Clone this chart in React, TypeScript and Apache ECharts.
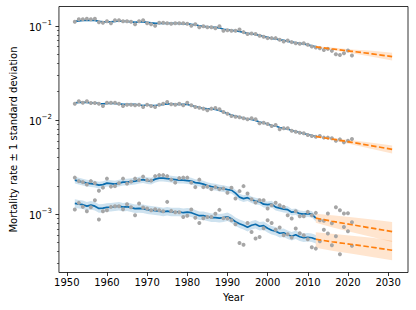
import React, { useEffect, useRef } from "react";
import * as echarts from "echarts";

// ---- data (mortality rates) ----
const obsStart = 1952;
const obsEnd = 2021;
const fitEnd = 2012;
const forecastYears = [2012, 2016, 2021, 2026, 2031];
const xTickLabels = [1950, 1960, 1970, 1980, 1990, 2000, 2010, 2020, 2030];
const yTickExponents = [-3, -2, -1];

const obsA = [0.1103,0.1172,0.1172,0.1187,0.1172,0.1187,0.1090,0.1076,0.1116,0.1063,
 0.1144,0.1144,0.1116,0.1116,0.1103,0.1037,0.1116,0.1144,0.1063,0.1037,
 0.1000,0.1076,0.1076,0.1063,0.1050,0.1063,0.1063,0.1063,0.1050,0.1000,
 0.1037,0.0964,0.0988,0.0964,0.0964,0.0941,0.0988,0.0885,0.0896,0.0885,
 0.0885,0.0913,0.0857,0.0818,0.0830,0.0818,0.0783,0.0764,0.0740,0.0740,
 0.0740,0.0710,0.0681,0.0698,0.0671,0.0654,0.0646,0.0654,0.0628,0.0603,
 0.0588,0.0579,0.0555,0.0569,0.0542,0.0500,0.0491,0.0512,0.0546,0.0483];
const fitA = [0.1116,0.1130,0.1144,0.1144,0.1144,0.1144,0.1116,0.1103,0.1103,0.1103,
 0.1116,0.1130,0.1116,0.1116,0.1103,0.1090,0.1103,0.1103,0.1090,0.1076,
 0.1063,0.1063,0.1063,0.1063,0.1063,0.1063,0.1063,0.1050,0.1050,0.1037,
 0.1025,0.1000,0.0988,0.0976,0.0964,0.0964,0.0952,0.0918,0.0907,0.0896,
 0.0885,0.0874,0.0853,0.0832,0.0822,0.0812,0.0792,0.0773,0.0755,0.0736,
 0.0727,0.0710,0.0701,0.0684,0.0676,0.0659,0.0651,0.0643,0.0628,0.0613,
 0.0598];
const fcA = [0.0598,0.0569,0.0536,0.0504,0.0471];
const fcLoA = [0.0591,0.0552,0.0510,0.0468,0.0429];
const fcHiA = [0.0606,0.0587,0.0562,0.0542,0.0518];

const obsB = [0.01491,0.01581,0.01528,0.01581,0.01517,0.01517,0.01491,0.01409,0.01528,0.01528,
 0.01528,0.01491,0.01409,0.01455,0.01455,0.01434,0.01455,0.01375,0.01455,0.01409,
 0.01375,0.01455,0.01491,0.01554,0.01469,0.01455,0.01491,0.01434,0.01528,0.01434,
 0.01375,0.01352,0.01320,0.01269,0.01320,0.01342,0.01300,0.01217,0.01167,0.01103,
 0.01084,0.01068,0.01042,0.01017,0.01042,0.01017,0.00922,0.00936,0.00907,0.00863,
 0.00885,0.00796,0.00816,0.00816,0.00769,0.00751,0.00733,0.00722,0.00693,0.00676,
 0.00664,0.00676,0.00650,0.00650,0.00639,0.00602,0.00623,0.00579,0.00602,0.00628];
const fitB = [0.01517,0.01535,0.01535,0.01535,0.01517,0.01517,0.01498,0.01480,0.01498,0.01498,
 0.01498,0.01480,0.01462,0.01462,0.01462,0.01462,0.01444,0.01426,0.01444,0.01426,
 0.01426,0.01444,0.01462,0.01480,0.01480,0.01462,0.01462,0.01462,0.01462,0.01426,
 0.01392,0.01358,0.01326,0.01310,0.01310,0.01294,0.01262,0.01217,0.01173,0.01131,
 0.01103,0.01076,0.01050,0.01025,0.01012,0.00988,0.00952,0.00929,0.00907,0.00874,
 0.00863,0.00832,0.00812,0.00802,0.00773,0.00755,0.00736,0.00718,0.00701,0.00684,
 0.00668];
const fcB = [0.00668,0.00628,0.00579,0.00532,0.00488];
const fcLoB = [0.00659,0.00608,0.00549,0.00491,0.00442];
const fcHiB = [0.00676,0.00648,0.00611,0.00575,0.00537];

const obsC = [0.002445,0.002244,0.002190,0.002070,0.002244,0.002137,0.001778,0.001914,0.002386,0.001962,
 0.001986,0.002137,0.002386,0.002111,0.002217,0.002386,0.002300,0.002506,0.002300,0.002272,
 0.002537,0.002600,0.002600,0.002537,0.002328,0.002163,0.002415,0.002445,0.002445,0.002163,
 0.001938,0.002328,0.001938,0.001962,0.001845,0.001938,0.001845,0.001877,0.001685,0.001905,
 0.001469,0.001757,0.001986,0.001661,0.001444,0.001332,0.001409,0.001409,0.001151,0.001247,
 0.001320,0.001247,0.001196,0.000976,0.000900,0.001076,0.000952,0.000952,0.001058,0.000976,
 0.001033,0.000863,0.000852,0.001017,0.000802,0.001187,0.001103,0.001017,0.001025,0.000822];
const fitC = [0.002300,0.002244,0.002190,0.002137,0.002111,0.002085,0.002035,0.002060,0.002137,0.002111,
 0.002085,0.002137,0.002190,0.002190,0.002217,0.002244,0.002300,0.002328,0.002272,0.002244,
 0.002357,0.002415,0.002415,0.002386,0.002357,0.002328,0.002300,0.002300,0.002272,0.002244,
 0.002163,0.002137,0.002085,0.002010,0.001962,0.001938,0.001891,0.001868,0.001822,0.001800,
 0.001673,0.001517,0.001462,0.001498,0.001426,0.001375,0.001358,0.001278,0.001262,0.001278,
 0.001187,0.001159,0.001131,0.001117,0.001050,0.001063,0.001012,0.001000,0.001012,0.001000,
 0.000907];
const fcC = [0.000907,0.000842,0.000773,0.000710,0.000653];
const fcLoC = [0.000812,0.000727,0.000643,0.000572,0.000508];
const fcHiC = [0.001012,0.000976,0.000929,0.000881,0.000826];

const obsD = [0.001122,0.001319,0.001196,0.001076,0.001187,0.001409,0.000878,0.001076,0.001103,0.001196,
 0.001217,0.001217,0.001131,0.001278,0.001187,0.000976,0.001300,0.001179,0.001151,0.001103,
 0.001131,0.001103,0.001076,0.001352,0.001084,0.001050,0.001050,0.000936,0.000964,0.001122,
 0.000918,0.000808,0.000907,0.000936,0.000936,0.001012,0.001111,0.000907,0.000900,0.000863,
 0.000783,0.000495,0.000473,0.000808,0.000648,0.000551,0.000573,0.000710,0.000863,0.000808,
 0.000684,0.000722,0.000598,0.000613,0.000565,0.000705,0.000628,0.000598,0.000542,0.000446,
 0.000431,0.000516,0.000684,0.000623,0.000468,0.000583,0.000375,0.000733,0.000659,0.000462];
const fitD = [0.001300,0.001278,0.001262,0.001217,0.001247,0.001217,0.001151,0.001159,0.001179,0.001187,
 0.001202,0.001217,0.001187,0.001202,0.001173,0.001145,0.001151,0.001145,0.001117,0.001103,
 0.001090,0.001076,0.001058,0.001076,0.001058,0.001058,0.001058,0.001037,0.001050,0.001037,
 0.001000,0.000964,0.000964,0.000940,0.000918,0.000918,0.000907,0.000918,0.000940,0.000896,
 0.000832,0.000792,0.000764,0.000727,0.000764,0.000783,0.000745,0.000755,0.000710,0.000676,
 0.000659,0.000628,0.000635,0.000605,0.000583,0.000605,0.000576,0.000562,0.000569,0.000562,
 0.000542];
const fcD = [0.000542,0.000510,0.000477,0.000446,0.000414];
const fcLoD = [0.000440,0.000409,0.000380,0.000351,0.000324];
const fcHiD = [0.000643,0.000620,0.000590,0.000562,0.000522];

const fitSdLog = [0.006, 0.006, 0.035, 0.045];

const BLUE = "#0b6cad";
const ORANGE = "#ff7f0e";
const GRAY = "#a6a6a6";
const FONT = "DejaVu Sans";
const FS = 10;

const lg = (v: number) => Math.log10(v);

function bandSeries(xs: number[], lo: number[], hi: number[], color: string, opacity: number) {
  return {
    type: "custom",
    silent: true,
    z: 1,
    data: xs.map((x, i) => [x, lg(lo[i]), lg(hi[i])]),
    encode: { x: 0, y: [1, 2] },
    renderItem: (params: any, api: any) => {
      if (params.dataIndex !== 0) return null;
      const pts: number[][] = [];
      for (let i = 0; i < xs.length; i++) pts.push(api.coord([xs[i], lg(hi[i])]));
      for (let i = xs.length - 1; i >= 0; i--) pts.push(api.coord([xs[i], lg(lo[i])]));
      return { type: "polygon", shape: { points: pts }, style: { fill: color, opacity } };
    },
  };
}

export default function App() {
  const ref = useRef<HTMLDivElement>(null);
  useEffect(() => {
    if (!ref.current) return;
    const chart = echarts.init(ref.current, null, { renderer: "svg" });
    const obsYears: number[] = [];
    for (let y = obsStart; y <= obsEnd; y++) obsYears.push(y);
    const fitYears = obsYears.filter((y) => y <= fitEnd);

    const groups = [
      { obs: obsA, fit: fitA, fc: fcA, lo: fcLoA, hi: fcHiA },
      { obs: obsB, fit: fitB, fc: fcB, lo: fcLoB, hi: fcHiB },
      { obs: obsC, fit: fitC, fc: fcC, lo: fcLoC, hi: fcHiC },
      { obs: obsD, fit: fitD, fc: fcD, lo: fcLoD, hi: fcHiD },
    ];

    const series: any[] = [];
    groups.forEach((g, gi) => {
      const sd = fitSdLog[gi];
      const loFit = g.fit.map((v) => v / Math.pow(10, sd));
      const hiFit = g.fit.map((v) => v * Math.pow(10, sd));
      series.push(bandSeries(fitYears, loFit, hiFit, BLUE, 0.2));
      series.push(bandSeries(forecastYears, g.lo, g.hi, ORANGE, 0.2));
    });
    groups.forEach((g) => {
      series.push({
        type: "line",
        z: 2,
        showSymbol: false,
        silent: true,
        data: fitYears.map((y, i) => [y, lg(g.fit[i])]),
        lineStyle: { color: BLUE, width: 1.7 },
      });
    });
    groups.forEach((g) => {
      series.push({
        type: "scatter",
        z: 3,
        silent: true,
        symbolSize: 4,
        data: obsYears.map((y, i) => [y, lg(g.obs[i])]),
        itemStyle: { color: GRAY, opacity: 1 },
      });
    });
    groups.forEach((g) => {
      series.push({
        type: "line",
        z: 4,
        showSymbol: false,
        silent: true,
        data: forecastYears.map((y, i) => [y, lg(g.fc[i])]),
        lineStyle: { color: ORANGE, width: 1.7, type: [5.5, 2.5] },
      });
    });

    const yMin = -3.619;
    const yMax = -0.795;
    const minorTicks: number[] = [];
    for (let e = -4; e <= -1; e++) {
      for (let k = 2; k <= 9; k++) {
        const v = Math.log10(k) + e;
        if (v > yMin && v < yMax) minorTicks.push(v);
      }
    }
    const majorTicks = yTickExponents.slice();

    chart.setOption({
      animation: false,
      textStyle: { fontFamily: FONT },
      grid: {
        left: 51.8,
        right: 8,
        top: 6.5,
        bottom: 37.5,
        show: true,
        borderColor: "#000",
        borderWidth: 0.8,
      },
      xAxis: {
        type: "value",
        min: 1948.05,
        max: 2034.95,
        name: "Year",
        nameLocation: "middle",
        nameGap: 18,
        nameTextStyle: { fontFamily: FONT, fontSize: FS, color: "#000" },
        axisLine: { show: false },
        splitLine: { show: false },
        axisTick: { show: true, length: 3.5, customValues: xTickLabels, lineStyle: { color: "#000", width: 0.8 } },
        axisLabel: {
          customValues: xTickLabels,
          margin: 5,
          fontFamily: FONT,
          fontSize: FS,
          color: "#000",
          formatter: (v: number) => String(v),
        },
      },
      yAxis: [
        {
          type: "value",
          min: yMin,
          max: yMax,
          name: "Mortality rate ± 1 standard deviation",
          nameLocation: "middle",
          nameGap: 36,
          nameTextStyle: { fontFamily: FONT, fontSize: FS, color: "#000" },
          axisLine: { show: false },
          splitLine: { show: false },
          axisTick: { show: true, length: 3.5, customValues: majorTicks, lineStyle: { color: "#000", width: 0.8 } },
          axisLabel: {
            customValues: majorTicks,
            margin: 7,
            color: "#000",
            formatter: (v: number) => `{b|10}{sup|−${-Math.round(v)}}`,
            rich: {
              b: { fontFamily: FONT, fontSize: FS, color: "#000", verticalAlign: "bottom", lineHeight: 13 },
              sup: { fontFamily: FONT, fontSize: 7, color: "#000", verticalAlign: "top", lineHeight: 8 },
            },
          },
        },
        {
          type: "value",
          min: yMin,
          max: yMax,
          position: "left",
          axisLine: { show: false },
          splitLine: { show: false },
          axisLabel: { show: false },
          axisTick: { show: true, length: 2, customValues: minorTicks, lineStyle: { color: "#000", width: 0.6 } },
        },
      ],
      series,
    });
    return () => chart.dispose();
  }, []);
  return (
    <div
      ref={ref}
      style={{ position: "fixed", left: 0, top: 0, width: 416, height: 310, background: "#fff" }}
    />
  );
}
